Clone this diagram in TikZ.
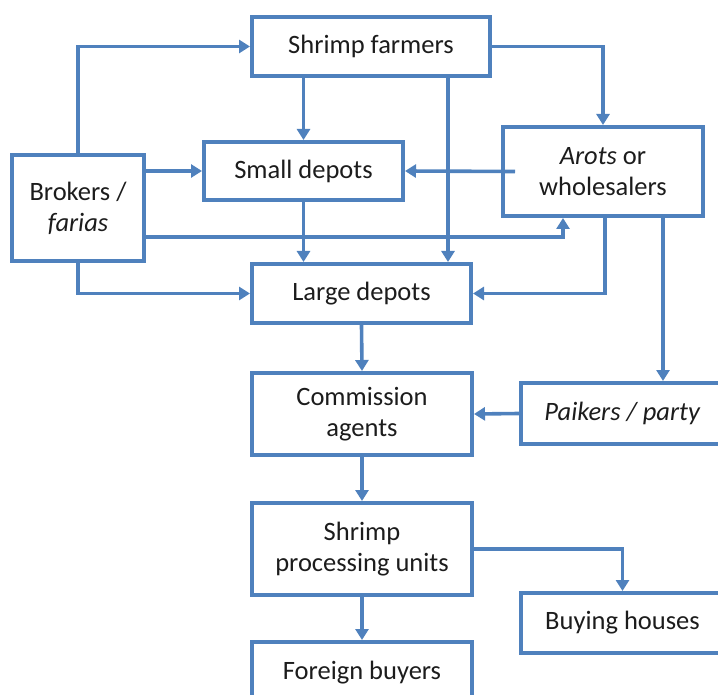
\documentclass[tikz,border=0pt]{standalone}
\usepackage{fontspec}
\setmainfont{Carlito}
\usetikzlibrary{arrows.meta}
\definecolor{lineblue}{HTML}{4F81BD}
\definecolor{txt}{HTML}{1C1C1C}
\begin{document}
\begin{tikzpicture}[x=1pt,y=-1pt,
  box/.style={draw=lineblue,line width=4pt,rectangle,inner sep=0pt,align=center,
    text=txt,font=\fontsize{26.5}{31}\selectfont},
  arr/.style={draw=lineblue,line width=3.6pt,-{Triangle[width=13pt,length=11pt]}}]
\useasboundingbox (0,0) rectangle (718,695);
\node[box,minimum width=238pt,minimum height=59pt] (farm) at (371,46.5) {Shrimp farmers};
\node[box,minimum width=199pt,minimum height=58pt] (small) at (303.5,171) {Small depots};
\node[box,minimum width=132pt,minimum height=106pt] (brok) at (78,208) {Brokers /\\\textit{farias}};
\node[box,minimum width=219pt,minimum height=59pt] (large) at (361.5,293.5) {Large depots};
\node[box,minimum width=200pt,minimum height=89pt] (arots) at (603,171.5) {\textit{Arots} or\\wholesalers};
\node[box,minimum width=220pt,minimum height=82pt] (comm) at (362,414) {Commission\\agents};
\node[box,minimum width=203pt,minimum height=61pt] (paik) at (622.5,413.5) {\textit{Paikers / party}};
\node[box,minimum width=220pt,minimum height=92pt] (proc) at (362,549) {Shrimp\\processing units};
\node[box,minimum width=203pt,minimum height=60pt] (buy) at (622.5,623) {Buying houses};
\node[box,minimum width=220pt,minimum height=62pt] (forn) at (362,673) {Foreign buyers};
\coordinate (f2) at ([xshift=77pt]farm.south);
\coordinate (a2) at ([xshift=60pt]arots.south);
\coordinate (b3) at ([yshift=-29pt]brok.east);
\coordinate (a3) at ([xshift=-40pt]arots.south);
\coordinate (a4) at ([xshift=2pt]arots.south);
\coordinate (a5) at ([xshift=14pt]arots.west);
\draw[arr] (brok.north) |- (farm.west);
\draw[arr] (brok.east |- small.west) -- (small.west);
\draw[arr] (b3) -| (a3);
\draw[arr] (brok.south) |- (large.west);
\draw[arr] (farm.south -| small.north) -- (small.north);
\draw[arr] (f2) -- (f2 |- large.north);
\draw[arr] (farm.east) -| (arots.north);
\draw[arr] (a5) -- (small.east);
\draw[arr] (small.south) -- (small.south |- large.north);
\draw[arr] (a4) |- (large.east);
\draw[arr] (a2) -- (a2 |- paik.north);
\draw[arr] (large.south) -- (comm.north);
\draw[arr] (paik.west) -- (comm.east);
\draw[arr] (comm.south) -- (proc.north);
\draw[arr] (proc.east) -| (buy.north);
\draw[arr] (proc.south) -- (forn.north);
\end{tikzpicture}
\end{document}
